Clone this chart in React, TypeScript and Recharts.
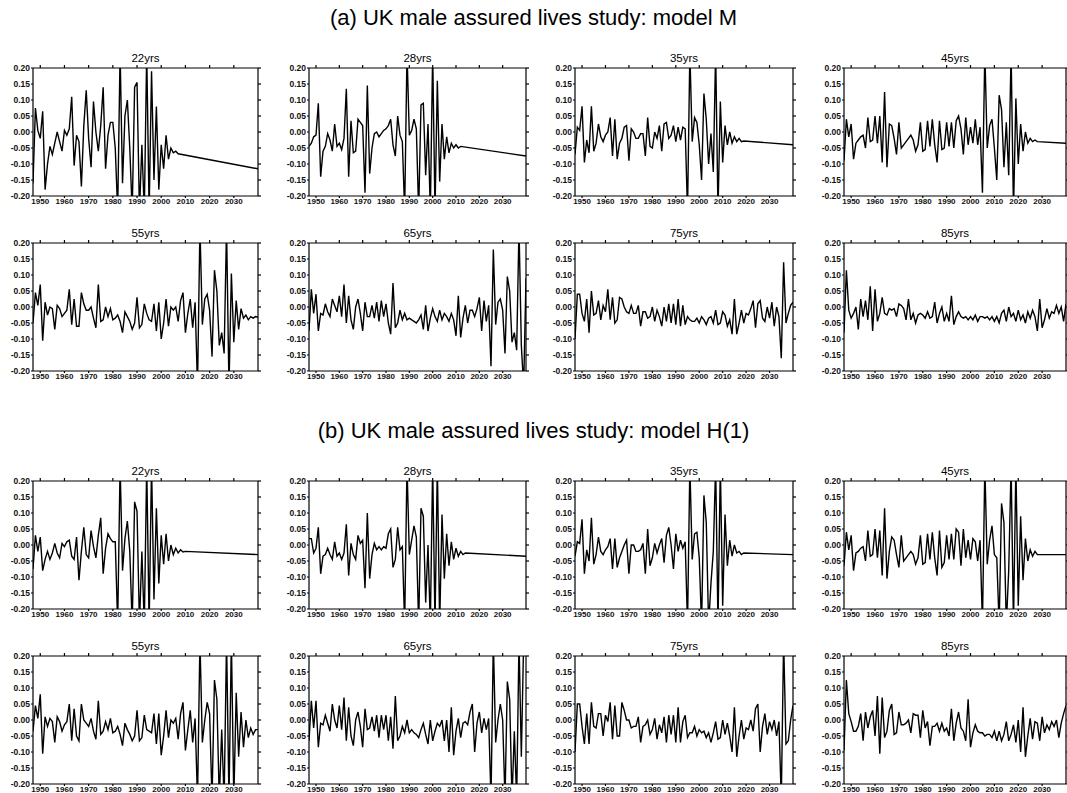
import React from 'react';
import { LineChart, Line, XAxis, YAxis } from 'recharts';

// ---------- data (values per year starting 1947; tails as [year, value]) ----------
const YEAR0 = 1947;
const yearTicks = [1950, 1960, 1970, 1980, 1990, 2000, 2010, 2020, 2030];
const valueTicks = [-0.2, -0.15, -0.1, -0.05, 0, 0.05, 0.1, 0.15, 0.2];

// (a) model M
const mA22 = [-0.16, 0.075, 0.005, -0.02, 0.065, -0.18, -0.1, -0.045, -0.07, -0.035,
  0.0, -0.03, -0.06, 0.005, -0.01, 0.01, 0.11, -0.105, -0.01, -0.03,
  -0.17, 0.02, 0.13, -0.02, -0.11, 0.095, 0.0, -0.06, 0.02, 0.14,
  -0.115, -0.01, 0.03, 0.03, -0.05, -0.25, 0.25, -0.16, 0.05, 0.1,
  -0.05, -0.25, 0.14, 0.155, -0.25, -0.04, -0.25, 0.25, -0.25, 0.19,
  -0.15, 0.08, -0.18, -0.04, -0.115, -0.01, -0.085, -0.05, -0.065, -0.06,
  -0.068];
const mA22Tail = [[2040, -0.115]];

const mA28 = [-0.045, -0.035, -0.015, -0.01, 0.09, -0.14, -0.06, -0.045, -0.005, -0.025,
  -0.06, 0.025, -0.045, -0.035, -0.055, -0.02, 0.135, -0.14, 0.035, -0.065,
  -0.06, 0.04, 0.03, 0.02, -0.19, 0.145, -0.13, -0.05, -0.005, 0.0,
  -0.015, -0.005, 0.005, 0.01, 0.02, 0.04, -0.04, -0.075, 0.05, -0.01,
  -0.03, -0.25, 0.25, -0.01, 0.005, 0.04, 0.01, -0.25, 0.085, 0.09,
  -0.135, 0.025, -0.25, 0.25, -0.25, 0.16, -0.155, 0.025, -0.085, -0.015,
  -0.065, -0.035, -0.05, -0.04, -0.05, -0.045];
const mA28Tail = [[2040, -0.075]];

const mA35 = [-0.07, 0.015, 0.005, 0.08, -0.095, -0.025, -0.065, 0.08, -0.06, -0.035,
  0.025, -0.015, -0.03, -0.01, 0.0, 0.045, -0.075, 0.04, -0.085, -0.035,
  -0.02, 0.015, 0.02, -0.09, 0.01, 0.0, -0.02, -0.02, -0.005, -0.005,
  -0.075, 0.045, -0.045, -0.05, 0.0, -0.02, 0.02, -0.06, 0.025, 0.03,
  -0.02, -0.01, 0.02, -0.03, 0.015, -0.025, 0.015, 0.01, -0.25, 0.25,
  -0.03, 0.045, 0.03, -0.04, -0.15, 0.12, 0.04, -0.1, -0.005, -0.125,
  0.25, -0.25, 0.095, -0.095, 0.02, -0.04, 0.0, -0.035, -0.015, -0.03,
  -0.02, -0.03, -0.028];
const mA35Tail = [[2040, -0.04]];

const mA45 = [-0.09, 0.04, -0.015, 0.025, -0.085, -0.035, -0.025, -0.015, -0.01, -0.05,
  0.045, -0.03, -0.025, 0.05, -0.035, 0.05, -0.095, 0.125, -0.11, 0.025,
  0.02, -0.02, -0.07, 0.03, -0.05, -0.04, -0.03, -0.02, -0.01, -0.025,
  -0.06, -0.04, 0.03, -0.06, -0.055, 0.035, -0.045, 0.04, -0.04, -0.095,
  0.035, -0.055, -0.05, 0.03, -0.045, 0.03, -0.05, 0.035, 0.05, 0.01,
  -0.07, 0.045, -0.04, 0.015, -0.035, 0.04, -0.04, 0.015, -0.19, 0.25,
  -0.05, 0.02, 0.04, -0.05, -0.15, 0.115, 0.07, -0.11, 0.03, -0.135,
  0.25, -0.25, 0.105, -0.1, 0.025, -0.06, 0.0, -0.035, -0.02, -0.03,
  -0.025, -0.03];
const mA45Tail = [[2040, -0.035]];

const mB55 = [-0.05, 0.045, 0.005, 0.07, -0.105, 0.015, -0.025, 0.0, -0.005, -0.07,
  0.005, -0.005, -0.03, -0.02, -0.01, 0.055, -0.055, 0.025, -0.06, -0.06,
  0.045, 0.01, -0.01, -0.01, 0.0, -0.035, -0.065, 0.07, -0.045, -0.04,
  0.0, -0.03, -0.005, -0.04, -0.035, -0.025, -0.045, -0.08, -0.015, -0.03,
  -0.045, -0.07, -0.05, 0.03, -0.065, -0.055, 0.01, -0.02, -0.04, -0.045,
  0.01, -0.075, 0.015, -0.1, -0.05, 0.025, -0.06, 0.0, -0.01, 0.0,
  -0.045, 0.02, 0.045, -0.08, -0.02, 0.025, -0.065, 0.015, -0.25, 0.25,
  -0.055, 0.025, 0.04, -0.01, -0.155, 0.115, 0.05, -0.12, -0.08, -0.145,
  0.25, -0.25, 0.105, -0.11, 0.02, -0.07, -0.005, -0.035, -0.025, -0.04,
  -0.03, -0.035, -0.03, -0.032];

const mB65 = [-0.075, 0.055, -0.02, 0.04, -0.075, -0.02, -0.025, 0.01, -0.015, -0.03,
  0.025, 0.005, -0.015, 0.035, -0.03, 0.07, -0.05, 0.035, -0.04, -0.07,
  0.0, 0.025, -0.02, -0.075, 0.015, -0.03, -0.03, 0.005, -0.035, 0.015,
  -0.045, 0.02, -0.03, 0.01, -0.05, -0.085, 0.075, -0.065, -0.05, -0.01,
  -0.04, -0.02, -0.04, -0.035, -0.04, -0.045, -0.05, -0.04, -0.025, -0.07,
  0.005, -0.075, -0.035, -0.005, -0.03, -0.045, -0.01, -0.04, -0.02, -0.03,
  -0.045, -0.02, -0.04, -0.09, 0.035, -0.095, -0.035, 0.005, -0.05, -0.01,
  -0.01, -0.03, -0.005, 0.03, -0.075, 0.02, -0.045, 0.005, -0.185, 0.18,
  -0.055, 0.015, 0.025, -0.01, -0.145, 0.095, 0.05, -0.11, -0.08, -0.135,
  0.25, -0.12, -0.25, 0.09];

const mB75 = [-0.1, 0.04, 0.04, -0.02, -0.045, 0.025, -0.08, 0.05, -0.025, -0.02,
  0.02, -0.04, 0.005, -0.015, 0.055, -0.04, 0.03, -0.05, -0.04, 0.03,
  0.025, 0.0, -0.015, -0.02, 0.005, -0.02, -0.02, 0.005, -0.06, -0.015,
  -0.015, -0.035, -0.03, 0.0, -0.045, -0.01, -0.03, -0.06, 0.0, -0.045,
  0.01, -0.05, 0.01, -0.055, 0.025, -0.06, 0.005, -0.055, -0.03, -0.04,
  -0.045, -0.045, -0.035, -0.05, -0.03, -0.04, -0.055, -0.035, -0.03, -0.05,
  -0.01, -0.055, -0.05, -0.015, -0.025, -0.06, -0.04, -0.085, 0.025, -0.085,
  -0.05, -0.01, -0.05, -0.02, -0.025, -0.005, 0.02, -0.065, 0.01, 0.02,
  -0.035, -0.045, 0.0, -0.035, 0.015, -0.06, 0.0, -0.03, -0.16, 0.14,
  -0.05, -0.02, 0.005, 0.015];

const mB85 = [-0.08, 0.115, -0.01, -0.035, -0.02, 0.0, -0.07, 0.025, -0.03, 0.02,
  -0.04, 0.065, -0.075, 0.055, -0.045, -0.02, 0.03, -0.02, -0.025, -0.005,
  -0.01, -0.005, -0.03, 0.01, 0.005, -0.005, -0.04, 0.025, -0.04, -0.02,
  -0.05, -0.025, -0.02, -0.025, -0.035, -0.015, -0.035, -0.03, 0.015, -0.05,
  -0.02, 0.0, -0.045, -0.02, -0.045, 0.035, -0.055, -0.03, -0.015, -0.03,
  -0.035, -0.03, -0.04, -0.03, -0.04, -0.025, -0.045, -0.03, -0.03, -0.035,
  -0.03, -0.04, -0.03, -0.045, -0.03, -0.05, -0.02, -0.01, -0.045, 0.0,
  -0.03, -0.02, -0.045, -0.01, -0.04, -0.025, -0.05, -0.015, -0.035, -0.01,
  -0.03, -0.075, 0.025, -0.065, -0.04, -0.005, -0.035, -0.015, -0.02, 0.005,
  -0.02, 0.0, -0.045, 0.01];

// (b) model H(1)
const hA22 = [-0.075, 0.03, -0.02, 0.025, -0.08, -0.045, -0.02, -0.045, -0.025, 0.005,
  -0.025, -0.04, 0.005, -0.005, 0.01, 0.015, -0.035, -0.045, 0.025, -0.11,
  -0.02, 0.055, -0.03, -0.04, 0.045, -0.005, -0.04, 0.03, 0.085, -0.09,
  -0.01, 0.035, 0.02, 0.01, 0.01, -0.25, 0.25, -0.08, 0.02, 0.075,
  -0.02, -0.25, 0.135, 0.105, -0.25, -0.02, -0.25, 0.25, -0.25, 0.25,
  -0.17, 0.115, -0.12, 0.03, -0.06, 0.035, -0.05, 0.0, -0.03, -0.01,
  -0.025, -0.015, -0.022, -0.02];
const hA22Tail = [[2040, -0.03]];

const hA28 = [0.02, 0.02, -0.025, -0.01, 0.055, -0.09, -0.035, -0.03, -0.01, -0.03,
  -0.045, 0.01, -0.035, -0.025, -0.045, -0.025, 0.065, -0.095, 0.005, -0.03,
  -0.045, 0.03, 0.005, 0.015, -0.135, 0.1, -0.105, -0.03, 0.005, -0.015,
  -0.005, -0.015, -0.005, -0.01, 0.035, 0.05, -0.07, -0.045, 0.055, -0.015,
  -0.005, -0.25, 0.25, -0.03, 0.015, 0.06, 0.025, -0.25, 0.115, 0.09,
  -0.18, 0.0, -0.25, 0.25, -0.25, 0.25, -0.25, 0.095, -0.105, 0.035,
  -0.065, 0.01, -0.045, -0.01, -0.035, -0.02, -0.03, -0.025];
const hA28Tail = [[2040, -0.035]];

const hA35 = [-0.035, 0.01, 0.005, 0.08, -0.09, -0.015, -0.05, 0.085, -0.06, -0.03,
  0.025, -0.02, -0.03, -0.015, -0.005, 0.02, -0.075, 0.02, -0.07, -0.04,
  -0.02, 0.0, 0.015, -0.09, 0.0, 0.0, -0.02, -0.02, -0.015, 0.005,
  -0.09, 0.05, -0.065, -0.04, 0.005, -0.025, 0.0, 0.02, -0.055, 0.03,
  0.055, 0.0, -0.075, 0.035, -0.02, 0.015, -0.01, 0.01, -0.25, 0.25,
  -0.045, 0.035, 0.04, -0.04, -0.25, 0.155, 0.07, -0.25, -0.12, -0.02,
  0.25, -0.25, 0.25, -0.19, 0.095, -0.065, 0.015, -0.035, 0.0, -0.025,
  -0.02, -0.03, -0.025];
const hA35Tail = [[2040, -0.03]];

const hA45 = [-0.065, 0.04, -0.015, 0.03, -0.08, -0.025, -0.02, -0.01, -0.005, -0.05,
  0.045, -0.035, -0.03, 0.05, -0.04, 0.045, -0.095, 0.115, -0.105, -0.02,
  0.025, 0.015, -0.03, -0.07, 0.03, -0.05, -0.04, -0.03, -0.02, -0.03,
  -0.06, -0.04, 0.03, -0.06, -0.055, 0.035, -0.045, 0.04, -0.04, -0.095,
  0.045, -0.07, -0.055, 0.03, -0.045, 0.035, -0.045, 0.05, 0.04, -0.065,
  0.05, -0.04, 0.015, -0.045, 0.02, 0.01, -0.05, 0.015, -0.25, 0.25,
  -0.06, 0.015, 0.06, -0.03, -0.04, -0.25, 0.13, 0.07, -0.25, -0.08,
  0.25, -0.25, 0.25, -0.19, 0.09, -0.11, 0.02, -0.05, -0.015, -0.035,
  -0.02, -0.03];
const hA45Tail = [[2040, -0.03]];

const hB55 = [-0.035, 0.045, 0.005, 0.08, -0.105, 0.01, -0.02, 0.005, -0.005, -0.07,
  0.01, -0.005, -0.035, -0.015, -0.005, 0.05, -0.065, 0.035, -0.05, -0.065,
  0.05, 0.0, -0.01, -0.02, 0.005, -0.035, -0.06, 0.06, -0.045, -0.035,
  -0.005, -0.03, 0.005, -0.04, -0.035, -0.02, -0.045, -0.08, -0.01, -0.03,
  -0.045, -0.065, -0.05, 0.03, -0.065, -0.055, 0.015, -0.03, -0.035, -0.04,
  0.02, -0.075, 0.02, -0.11, -0.05, 0.03, -0.055, 0.0, -0.01, 0.005,
  -0.06, 0.02, 0.055, -0.095, -0.03, 0.03, -0.07, 0.005, -0.25, 0.25,
  -0.07, 0.0, 0.055, 0.02, -0.25, 0.125, 0.065, -0.25, -0.03, -0.25,
  0.25, -0.25, 0.25, -0.25, 0.085, -0.115, 0.025, -0.085, 0.0, -0.055,
  -0.025, -0.045, -0.03, -0.03];

const hB65 = [-0.065, 0.06, -0.025, 0.06, -0.085, -0.01, -0.015, 0.015, -0.01, -0.035,
  0.05, 0.0, -0.025, 0.045, -0.03, 0.07, -0.065, 0.04, -0.05, -0.08,
  0.0, 0.025, -0.02, -0.085, 0.035, -0.03, -0.025, 0.01, -0.035, 0.015,
  -0.055, 0.015, -0.03, 0.015, -0.065, 0.01, -0.09, 0.075, -0.065, -0.05,
  -0.02, -0.04, 0.0, -0.04, -0.03, -0.04, -0.045, -0.055, -0.03, -0.01,
  -0.045, -0.075, 0.0, -0.065, -0.035, -0.01, -0.02, 0.0, -0.065, 0.0,
  -0.1, 0.04, -0.11, -0.035, 0.005, -0.055, -0.01, -0.005, -0.015, 0.025,
  0.05, -0.1, -0.01, 0.025, -0.04, 0.005, -0.03, 0.005, -0.25, 0.25,
  -0.07, 0.0, 0.05, 0.0, -0.25, 0.12, 0.065, -0.25, -0.035, -0.25,
  0.25, -0.115, 0.25, 0.2];

const hB75 = [-0.1, 0.05, 0.05, -0.02, -0.075, 0.02, -0.075, 0.055, -0.02, -0.025,
  0.02, 0.02, -0.05, 0.015, -0.005, 0.055, -0.06, 0.045, -0.05, -0.05,
  0.055, 0.03, 0.0, 0.0, -0.025, -0.02, -0.02, 0.01, -0.07, -0.02,
  -0.015, 0.0, -0.045, -0.03, 0.005, -0.06, -0.015, -0.04, 0.01, -0.07,
  0.015, -0.045, 0.015, -0.07, 0.04, -0.07, -0.005, 0.015, -0.055, -0.04,
  -0.04, -0.02, -0.05, -0.03, -0.04, -0.035, -0.055, -0.04, -0.07, -0.04,
  -0.005, -0.06, -0.055, 0.0, -0.045, -0.01, -0.05, -0.1, 0.04, -0.115,
  -0.05, 0.0, -0.06, -0.025, -0.03, 0.0, -0.035, 0.035, 0.05, -0.1,
  -0.02, 0.02, -0.045, -0.005, -0.03, 0.0, -0.05, -0.005, -0.25, 0.25,
  -0.075, -0.065, 0.0, 0.045];

const hB85 = [-0.095, 0.125, 0.02, -0.005, -0.035, -0.035, -0.02, 0.02, -0.065, 0.025,
  -0.025, 0.01, 0.03, -0.05, 0.075, -0.105, 0.07, -0.055, -0.035, 0.03,
  0.05, -0.045, -0.04, 0.025, -0.015, -0.015, -0.01, 0.0, -0.04, 0.02,
  0.015, 0.015, -0.055, 0.03, -0.025, -0.005, -0.08, -0.02, -0.02, -0.01,
  -0.035, -0.01, -0.035, -0.025, -0.05, 0.035, -0.065, -0.01, 0.025, -0.025,
  -0.035, -0.065, 0.065, -0.085, -0.04, -0.015, -0.035, -0.04, -0.04, -0.05,
  -0.045, -0.045, -0.055, -0.035, -0.065, -0.035, -0.065, -0.045, -0.005, -0.065,
  -0.045, -0.015, -0.07, 0.0, -0.1, 0.04, -0.115, -0.05, 0.005, -0.06,
  -0.005, -0.01, -0.065, 0.01, -0.04, -0.015, -0.03, -0.005, -0.02, 0.0,
  -0.055, -0.01, 0.02, 0.045];

const sectionTitles = ['(a) UK male assured lives study: model M', '(b) UK male assured lives study: model H(1)'];
const panelTitles = ['22yrs', '28yrs', '35yrs', '45yrs', '55yrs', '65yrs', '75yrs', '85yrs'];
const seriesM = [[mA22, mA22Tail], [mA28, mA28Tail], [mA35, mA35Tail], [mA45, mA45Tail],
  [mB55, []], [mB65, []], [mB75, []], [mB85, []]];
const seriesH = [[hA22, hA22Tail], [hA28, hA28Tail], [hA35, hA35Tail], [hA45, hA45Tail],
  [hB55, []], [hB65, []], [hB75, []], [hB85, []]];

// ---------- layout ----------
const FONT = '"Liberation Sans", Arial, Helvetica, sans-serif';
const colLeft = [33, 309, 575, 844];
const colWidth = [225, 217, 218, 222];
const rowTop = [68, 243, 481, 656];
const BOX_H = 128;
const Y_AXIS_W = 30;
const R_AXIS_W = 5;
const T_AXIS_H = 5;
const B_AXIS_H = 13;

function buildData(vals: number[], tail: number[][]) {
  return [
    ...vals.map((v, i) => ({ year: YEAR0 + i, v })),
    ...tail.map(([year, v]) => ({ year, v })),
  ];
}

function Panel({ title, vals, tail, left, top, w }: any) {
  const data = buildData(vals, tail);
  return (
    <>
      <div style={{ position: 'absolute', left, top: top - 17, width: w, height: 15, lineHeight: '15px',
        textAlign: 'center', fontSize: 11.5, color: '#000' }}>{title}</div>
      <div style={{ position: 'absolute', left: left - Y_AXIS_W, top: top - T_AXIS_H }}>
        <LineChart width={w + Y_AXIS_W + R_AXIS_W} height={BOX_H + T_AXIS_H + B_AXIS_H} data={data}
          margin={{ top: 0, right: 0, bottom: 0, left: 0 }}>
          <XAxis xAxisId="b" dataKey="year" type="number" domain={[1947, 2040]} ticks={yearTicks}
            interval={0} height={B_AXIS_H} tickSize={2} tickMargin={0} stroke="#000" strokeWidth={1.2}
            tick={{ fontSize: 8, fontWeight: 'bold', fill: '#111', fontFamily: FONT }} allowDataOverflow />
          <XAxis xAxisId="t" orientation="top" dataKey="year" type="number" domain={[1947, 2040]}
            ticks={yearTicks} interval={0} height={T_AXIS_H} tickSize={3} stroke="#000" strokeWidth={1.2}
            tickFormatter={() => ''} allowDataOverflow />
          <YAxis yAxisId="l" type="number" domain={[-0.2, 0.2]} ticks={valueTicks} interval={0}
            width={Y_AXIS_W} tickSize={2} tickMargin={1} stroke="#000" strokeWidth={1.2}
            tickFormatter={(v: number) => v.toFixed(2)}
            tick={{ fontSize: 8.5, fontWeight: 'bold', fill: '#111', fontFamily: FONT }} allowDataOverflow />
          <YAxis yAxisId="r" orientation="right" type="number" domain={[-0.2, 0.2]} ticks={valueTicks}
            interval={0} width={R_AXIS_W} tickSize={3} stroke="#000" strokeWidth={1.2}
            tickFormatter={() => ''} allowDataOverflow />
          <Line xAxisId="b" yAxisId="l" type="linear" dataKey="v" stroke="#000" strokeWidth={1.4}
            dot={false} isAnimationActive={false} />
        </LineChart>
      </div>
    </>
  );
}

export default function App() {
  const groups = [
    { title: sectionTitles[0], titleY: 18, rows: [0, 1], series: seriesM },
    { title: sectionTitles[1], titleY: 431, rows: [2, 3], series: seriesH },
  ];
  return (
    <div style={{ position: 'absolute', left: 0, top: 0, width: 1067, height: 793, background: '#fff',
      overflow: 'hidden', fontFamily: FONT, color: '#000' }}>
      {groups.map((g, gi) => (
        <React.Fragment key={gi}>
          <div style={{ position: 'absolute', left: 0, width: 1067, top: g.titleY - 13, height: 26,
            lineHeight: '26px', textAlign: 'center', fontSize: 22 }}>{g.title}</div>
          {g.series.map(([vals, tail], i) => {
            const r = g.rows[Math.floor(i / 4)];
            const c = i % 4;
            return (
              <Panel key={i} title={panelTitles[i]} vals={vals} tail={tail}
                left={colLeft[c]} top={rowTop[r]} w={colWidth[c]} />
            );
          })}
        </React.Fragment>
      ))}
    </div>
  );
}
